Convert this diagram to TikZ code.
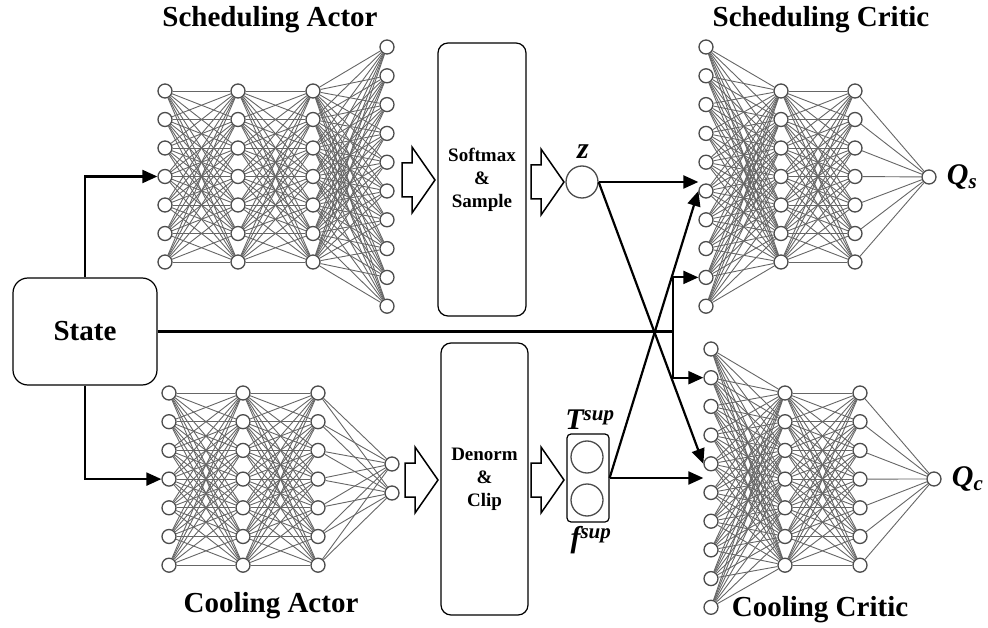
\documentclass[tikz,border=0pt]{standalone}
\usepackage{fontspec}
\setmainfont{Liberation Serif}
\usetikzlibrary{arrows.meta,positioning,calc}
\tikzset{
  >={Triangle[length=15pt,width=13pt]},
  neuron/.style={circle,draw=black!70,fill=white,line width=1.3pt,minimum size=14pt,inner sep=0pt},
  wire/.style={draw=black!60,line width=0.9pt},
  bus/.style={draw=black,line width=2.2pt},
  flow/.style={bus,->},
  procbox/.style={draw=black,rounded corners=10pt,line width=1.2pt,align=center,inner sep=0pt,
    font=\fontsize{19}{23}\selectfont\bfseries},
  title/.style={font=\fontsize{29}{34}\selectfont\bfseries},
  outlab/.style={font=\fontsize{30}{34}\selectfont\bfseries\itshape,inner sep=1pt},
  hollow/.style={draw=black,line width=1.5pt,fill=white},
  pics/fatarrow/.style={code={
    \draw[hollow] (0,-17) -- (10,-17) -- (10,-33) -- (33,0) -- (10,33) -- (10,17) -- (0,17) -- cycle;}},
}
\begin{document}
\begin{tikzpicture}[x=1pt,y=-1pt]
\useasboundingbox (0,0) rectangle (988,628);

% neurons: net/layer/x/count/top/step
\foreach \net/\l/\x/\n/\ytop/\dy in {
  sa/1/165/7/91/28.5, sa/2/238/7/91/28.5, sa/3/313/7/91/28.5, sa/4/387/10/47/28.8,
  ca/1/169/7/393/28.7, ca/2/243/7/393/28.7, ca/3/318/7/393/28.7, ca/4/392/2/464/29,
  sc/1/706/10/47/28.8, sc/2/781/7/91/28.5, sc/3/855/7/91/28.5, sc/4/929/1/177/0,
  cc/1/711/10/349/28.7, cc/2/785/7/393/28.7, cc/3/860/7/393/28.7, cc/4/934/1/479/0}
  \foreach \i in {1,...,\n}
    \node[neuron] (\net\l-\i) at (\x,{\ytop+(\i-1)*\dy}) {};

% fully connected layers
\foreach \net/\l/\m/\n/\cnt in {
  sa/1/2/7/7, sa/2/3/7/7, sa/3/4/7/10,
  ca/1/2/7/7, ca/2/3/7/7, ca/3/4/7/2,
  sc/1/2/10/7, sc/2/3/7/7, sc/3/4/7/1,
  cc/1/2/10/7, cc/2/3/7/7, cc/3/4/7/1}
  \foreach \i in {1,...,\n}
    \foreach \j in {1,...,\cnt}
      \draw[wire] (\net\l-\i) -- (\net\m-\j);

% titles
\node[title] (satitle) at (270,20) {Scheduling Actor};
\node[title] (catitle) at (271,606) {Cooling Actor};
\node[title] (sctitle) at (821,20) {Scheduling Critic};
\node[title] (cctitle) at (820,610) {Cooling Critic};

% state and processing boxes
\node[procbox,rounded corners=15pt,minimum width=144pt,minimum height=107pt,
  font=\fontsize{29}{34}\selectfont\bfseries] (state) at (85,331.5) {State};
\node[procbox,minimum width=88pt,minimum height=273pt] (softmax) at (482,179.5) {Softmax\\\&\\Sample};
\node[procbox,minimum width=87pt,minimum height=272pt] (denorm) at (484.5,479) {Denorm\\\&\\Clip};

\pic at (402,180) {fatarrow};
\pic at (531,182) {fatarrow};
\pic at (405,480) {fatarrow};
\pic at (531,480) {fatarrow};

% actions
\node[neuron,minimum size=32pt] (z) at (582,182) {};
\node[outlab] (zlab) at (583,152) {z};
\node[draw=black,rounded corners=4pt,line width=1.2pt,minimum width=42pt,minimum height=88pt] (tf) at (588,478) {};
\node[neuron,minimum size=32pt] (tsup) at (587,457) {};
\node[neuron,minimum size=32pt] (fsup) at (587,500) {};
\node[outlab] (tlab) at (590,420) {T\textsuperscript{sup}};
\node[outlab] (flab) at (591,540) {f\textsuperscript{sup}};

% critic outputs
\node[outlab,right=9pt of sc4-1] (qs) {Q\textsubscript{s}};
\node[outlab,right=9pt of cc4-1] (qc) {Q\textsubscript{c}};

% state to actors and critics
\draw[flow] (state.north) |- (sa1-4);
\draw[flow] (state.south) |- (ca1-4);
\coordinate (split) at (673,331.5);
\draw[bus] (state.east) -- (split);
\draw[flow] (split) |- (sc1-9);
\draw[flow] (split) |- (cc1-2);

% actions to critics
\draw[flow] (z.east) -- (z.east -| sc1-6.west);
\draw[flow] (z.east) -- (cc1-5.west);
\draw[flow] (tf.east) -- (tf.east -| cc1-5.west);
\draw[flow] (tf.east) -- (sc1-6.west);
\end{tikzpicture}
\end{document}
